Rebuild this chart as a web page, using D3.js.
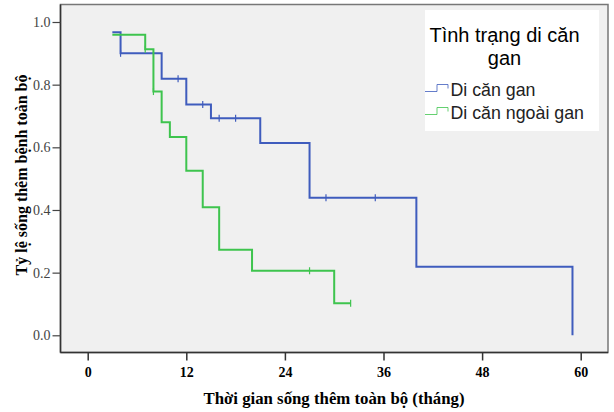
<!DOCTYPE html>
<html><head><meta charset="utf-8">
<script src="https://cdn.jsdelivr.net/npm/d3@7"></script>
<style>body{margin:0;background:#fff}svg{display:block}</style>
</head><body>
<svg id="c" width="614" height="412"></svg>
<script>
const seriesNames = ["Di căn gan", "Di căn ngoài gan"];
const legendTitle = ["Tình trạng di căn", "gan"];
const xTicks = [0, 12, 24, 36, 48, 60];
const yTicks = [0.0, 0.2, 0.4, 0.6, 0.8, 1.0];
// Series 1: Di căn gan
const gan_start = [3, 0.967];
const gan_times = [4, 9, 12, 15, 21, 27, 40, 59];
const gan_surv  = [0.900, 0.819, 0.737, 0.693, 0.614, 0.439, 0.219, 0.0];
const gan_end = 59;
const gan_censor = [4, 11, 14, 16, 18, 29, 35];
// Series 2: Di căn ngoài gan
const ngoai_start = [3, 0.959];
const ngoai_times = [7, 8, 9, 10, 12, 14, 16, 20, 30];
const ngoai_surv  = [0.913, 0.778, 0.680, 0.633, 0.525, 0.409, 0.273, 0.206, 0.102];
const ngoai_end = 32;
const ngoai_censor = [7, 8, 27, 32];

const svg = d3.select("#c");
const x = d3.scaleLinear().domain([0, 60]).range([87.7, 580.7]);
const y = d3.scaleLinear().domain([0, 1]).range([335.3, 22]);
const L = 60.5, R = 608, T = 4.5, B = 352.5;

svg.append("rect").attr("x", L).attr("y", T).attr("width", R - L).attr("height", B - T)
  .attr("fill", "#f0f0f0").attr("stroke", "#777").attr("stroke-width", 1.5);

// axes
const xa = svg.append("g").attr("transform", `translate(0,${B})`)
  .call(d3.axisBottom(x).tickValues(xTicks).tickSize(8).tickPadding(3).tickSizeOuter(0));
xa.select(".domain").attr("d", `M${L},0H${R}`).attr("stroke", "#333").attr("stroke-width", 1.5);
xa.selectAll(".tick line").attr("stroke", "#333").attr("stroke-width", 1.5);
xa.selectAll(".tick text").attr("font-family", "Liberation Serif").attr("font-weight", "bold")
  .attr("font-size", 14).attr("fill", "#000").attr("dy", "0.95em");

const ya = svg.append("g").attr("transform", `translate(${L},0)`)
  .call(d3.axisLeft(y).tickValues(yTicks).tickFormat(d3.format(".1f")).tickSize(8).tickPadding(2).tickSizeOuter(0));
ya.select(".domain").attr("d", `M0,${T}V${B}`).attr("stroke", "#333").attr("stroke-width", 1.5);
ya.selectAll(".tick line").attr("stroke", "#444").attr("stroke-width", 1.2);
ya.selectAll(".tick text").attr("font-family", "Liberation Serif")
  .attr("font-size", 14).attr("fill", "#444");

// axis titles
svg.append("text").attr("x", 334).attr("y", 404).attr("text-anchor", "middle")
  .attr("font-family", "Liberation Serif").attr("font-weight", "bold").attr("font-size", 16.8)
  .text("Thời gian sống thêm toàn bộ (tháng)");
svg.append("text").attr("transform", "translate(27,175) rotate(-90)").attr("text-anchor", "middle")
  .attr("font-family", "Liberation Serif").attr("font-weight", "bold").attr("font-size", 16)
  .text("Tỷ lệ sống thêm bệnh toàn bộ");

function stepPath(start, times, surv, end) {
  let pts = [[start[0], start[1]]];
  let cur = start[1];
  times.forEach((t, i) => { pts.push([t, cur]); pts.push([t, surv[i]]); cur = surv[i]; });
  if (end > times[times.length - 1]) pts.push([end, cur]);
  return d3.line().x(d => x(d[0])).y(d => y(d[1]))(pts);
}
function survAt(start, times, surv, t) {
  let v = start[1];
  times.forEach((tt, i) => { if (tt <= t) v = surv[i]; });
  return v;
}
const series = [
  {start: gan_start, times: gan_times, surv: gan_surv, end: gan_end, censor: gan_censor, color: "#3f5cbd"},
  {start: ngoai_start, times: ngoai_times, surv: ngoai_surv, end: ngoai_end, censor: ngoai_censor, color: "#3ec44e"}
];
series.forEach(s => {
  svg.append("path").attr("d", stepPath(s.start, s.times, s.surv, s.end))
    .attr("fill", "none").attr("stroke", s.color).attr("stroke-width", 2);
  svg.append("g").selectAll("line").data(s.censor).join("line")
    .attr("x1", d => x(d)).attr("x2", d => x(d))
    .attr("y1", d => y(survAt(s.start, s.times, s.surv, d)) - 3.5)
    .attr("y2", d => y(survAt(s.start, s.times, s.surv, d)) + 3.5)
    .attr("stroke", s.color).attr("stroke-width", 1.2);
});

// legend
const lg = svg.append("g");
lg.append("rect").attr("x", 425).attr("y", 10).attr("width", 174).attr("height", 121).attr("fill", "#fff");
lg.selectAll("text.t").data(legendTitle).join("text").attr("class", "t")
  .attr("x", 504.5).attr("y", (d, i) => 42 + i * 22.6).attr("text-anchor", "middle")
  .attr("font-family", "Liberation Sans").attr("font-size", 20).attr("fill", "#000").text(d => d);
seriesNames.forEach((n, i) => {
  const by = 95.5 + i * 23;
  lg.append("path").attr("d", `M425,${by - 4}H437V${by - 11}H448V${by - 7}`)
    .attr("fill", "none").attr("stroke", series[i].color).attr("stroke-width", 1).attr("opacity", 0.8);
  lg.append("text").attr("x", 450.5).attr("y", by).attr("font-family", "Liberation Sans")
    .attr("font-size", 17.8).attr("fill", "#222").text(n);
});
</script>
</body></html>
